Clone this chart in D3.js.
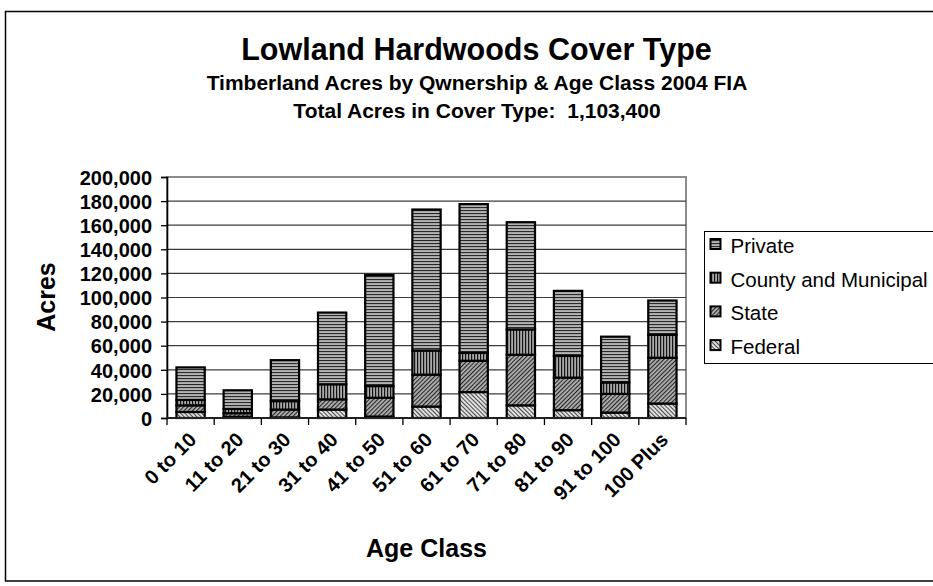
<!DOCTYPE html>
<html>
<head>
<meta charset="utf-8">
<script src="https://cdn.jsdelivr.net/npm/d3@7"></script>
<style>
  html, body { margin: 0; padding: 0; background: #fff; }
  text { font-family: Arial, "Liberation Sans", sans-serif; }
</style>
</head>
<body>
<script>
// ---- Data ----
const categories = ["0 to 10","11 to 20","21 to 30","31 to 40","41 to 50","51 to 60","61 to 70","71 to 80","81 to 90","91 to 100","100 Plus"];
const federal = [5000, 1000, 500, 7000, 1200, 9500, 21500, 10500, 6500, 4500, 12000];
const state   = [5500, 3000, 6500, 8500, 15600, 26500, 26000, 42000, 27000, 15500, 38000];
const county  = [4500, 3500, 7000, 12500, 9700, 20000, 6500, 21000, 18000, 9500, 19000];
const privateAcres = [27000, 15500, 34000, 59500, 92200, 117000, 123500, 89000, 54000, 38000, 28500];
const seriesNames = ["Federal", "State", "County and Municipal", "Private"];
const legendOrder = ["Private", "County and Municipal", "State", "Federal"];
const yTicks = [0, 20000, 40000, 60000, 80000, 100000, 120000, 140000, 160000, 180000, 200000];
const titleText = "Lowland Hardwoods Cover Type";
const subtitle1 = "Timberland Acres by Qwnership & Age Class 2004 FIA";
const subtitle2 = "Total Acres in Cover Type:  1,103,400";

const rows = categories.map((c, i) => ({
  cat: c,
  "Federal": federal[i],
  "State": state[i],
  "County and Municipal": county[i],
  "Private": privateAcres[i]
}));

const W = 933, H = 586;
const svg = d3.select("body").append("svg").attr("width", W).attr("height", H);

// ---- Patterns ----
const defs = svg.append("defs");
function stripe(id, bg, fg, size, lw, rot) {
  const p = defs.append("pattern").attr("id", id)
    .attr("patternUnits", "userSpaceOnUse")
    .attr("width", size).attr("height", size);
  if (rot !== null) p.attr("patternTransform", `rotate(${rot})`);
  p.append("rect").attr("width", size).attr("height", size).attr("fill", bg);
  p.append("rect").attr("width", lw).attr("height", size).attr("fill", fg);
}
stripe("pPrivate", "#b4b4b4", "#2a2a2a", 3, 1.1, 90);
stripe("pCounty", "#a8a8a8", "#141414", 3, 1.2, 0);
stripe("pState", "#b0b0b0", "#262626", 3, 1.1, 45);
stripe("pFederal", "#e0e0e0", "#4a4a4a", 3, 1, -45);
const fills = {
  "Private": "url(#pPrivate)",
  "County and Municipal": "url(#pCounty)",
  "State": "url(#pState)",
  "Federal": "url(#pFederal)"
};

// ---- Chart frame ----
svg.append("rect").attr("x", 5.5).attr("y", 11.5).attr("width", 1000).attr("height", 569.5)
  .attr("fill", "#fff").attr("stroke", "#000").attr("stroke-width", 1.5);

// ---- Titles ----
svg.append("text").attr("x", 476.5).attr("y", 60).attr("text-anchor", "middle")
  .attr("font-size", 30.5).attr("font-weight", "bold").text(titleText);
svg.append("text").attr("x", 477).attr("y", 90).attr("text-anchor", "middle")
  .attr("font-size", 21).attr("font-weight", "bold").text(subtitle1);
svg.append("text").attr("x", 477).attr("y", 118).attr("text-anchor", "middle")
  .attr("font-size", 21).attr("font-weight", "bold").style("white-space", "pre").text(subtitle2);

// ---- Scales ----
const plotL = 167, plotR = 686, plotT = 177, plotB = 418;
const x = d3.scaleBand().domain(categories).range([plotL, plotR]).paddingInner(0.4).paddingOuter(0.2);
const y = d3.scaleLinear().domain([0, 200000]).range([plotB, plotT]);

// plot area border
svg.append("rect").attr("x", plotL).attr("y", plotT).attr("width", plotR - plotL).attr("height", plotB - plotT)
  .attr("fill", "#fff").attr("stroke", "#8c8c8c").attr("stroke-width", 2);

// gridlines
svg.append("g").selectAll("line").data(yTicks.filter(d => d > 0 && d < 200000)).join("line")
  .attr("x1", plotL).attr("x2", plotR)
  .attr("y1", d => y(d)).attr("y2", d => y(d))
  .attr("stroke", "#3c3c3c").attr("stroke-width", 1.2);

// ---- Bars ----
const stack = d3.stack().keys(seriesNames)(rows);
const gBars = svg.append("g");
stack.forEach(layer => {
  gBars.append("g").selectAll("rect").data(layer).join("rect")
    .attr("x", d => x(d.data.cat))
    .attr("width", x.bandwidth())
    .attr("y", d => y(d[1]))
    .attr("height", d => y(d[0]) - y(d[1]))
    .attr("fill", fills[layer.key])
    .attr("stroke", "#000").attr("stroke-width", 2.2);
});

// ---- Axes ----
const yAxis = d3.axisLeft(y).tickValues(yTicks).tickSize(6).tickFormat(d3.format(","));
const gy = svg.append("g").attr("transform", `translate(${plotL},0)`).call(yAxis);
gy.select(".domain").attr("stroke", "#000").attr("stroke-width", 1.6);
gy.selectAll(".tick line").attr("stroke", "#000").attr("stroke-width", 1.3);
gy.selectAll(".tick text").attr("font-size", 20).attr("font-weight", "bold")
  .attr("font-family", "Arial, 'Liberation Sans', sans-serif").attr("fill", "#000").attr("dx", "-0.3em").attr("dy", "0.36em");

// x axis line and boundary ticks
svg.append("line").attr("x1", plotL).attr("x2", plotR).attr("y1", plotB).attr("y2", plotB)
  .attr("stroke", "#222").attr("stroke-width", 1.8);
const boundaries = d3.range(categories.length + 1).map(i => plotL + i * x.step());
svg.append("g").selectAll("line").data(boundaries).join("line")
  .attr("x1", d => d).attr("x2", d => d).attr("y1", plotB).attr("y2", plotB + 7)
  .attr("stroke", "#000").attr("stroke-width", 1.3);

// x labels
svg.append("g").selectAll("text").data(categories).join("text")
  .attr("transform", d => `translate(${x(d) + x.bandwidth() / 2 + 7},441) rotate(-45)`)
  .attr("text-anchor", "end")
  .attr("font-size", 20).attr("font-weight", "bold")
  .text(d => d);

// axis titles
svg.append("text").attr("transform", "translate(55,297) rotate(-90)").attr("text-anchor", "middle")
  .attr("font-size", 25).attr("font-weight", "bold").text("Acres");
svg.append("text").attr("x", 426.5).attr("y", 557).attr("text-anchor", "middle")
  .attr("font-size", 25).attr("font-weight", "bold").text("Age Class");

// ---- Legend ----
const lg = svg.append("g");
lg.append("rect").attr("x", 704.5).attr("y", 231.5).attr("width", 400).attr("height", 132)
  .attr("fill", "#fff").attr("stroke", "#000").attr("stroke-width", 1);
legendOrder.forEach((name, i) => {
  const by = 253 + i * 33.7;
  lg.append("rect").attr("x", 710.5).attr("y", by - 14).attr("width", 10).attr("height", 10)
    .attr("fill", fills[name]).attr("stroke", "#000").attr("stroke-width", 2);
  lg.append("text").attr("x", 730.5).attr("y", by).attr("font-size", 20.5).text(name);
});
</script>
</body>
</html>
